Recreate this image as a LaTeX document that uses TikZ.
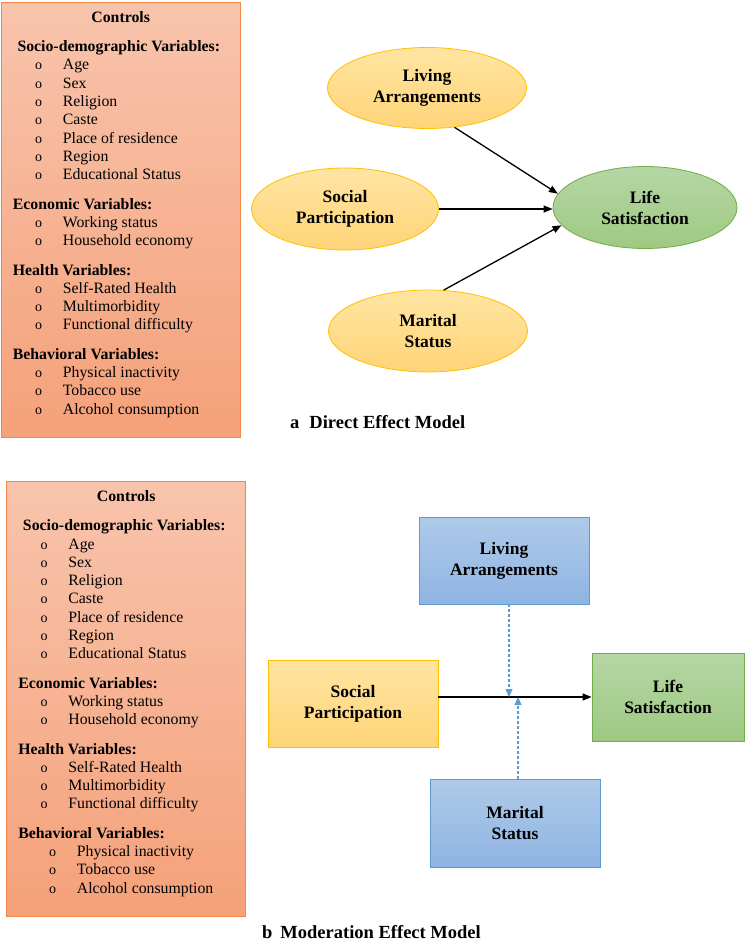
\documentclass[tikz,border=0pt]{standalone}
\usepackage{fontspec}
\setmainfont{Liberation Serif}
\usepackage{tikz}
\usetikzlibrary{shapes.geometric,arrows.meta}
\definecolor{peachtop}{RGB}{248,196,172}
\definecolor{peachbot}{RGB}{245,161,122}
\definecolor{peachline}{RGB}{240,135,75}
\definecolor{goldtop}{RGB}{255,229,162}
\definecolor{goldbot}{RGB}{255,212,120}
\definecolor{goldline}{RGB}{255,192,0}
\definecolor{greentop}{RGB}{181,214,165}
\definecolor{greenbot}{RGB}{158,201,130}
\definecolor{greenline}{RGB}{112,173,71}
\definecolor{bluetop}{RGB}{175,202,233}
\definecolor{bluebot}{RGB}{143,180,227}
\definecolor{blueline}{RGB}{91,155,213}

\begin{document}
\begin{tikzpicture}[
	x=1pt, y=-1pt,
	ctrlbox/.style={
		draw=peachline, line width=1pt,
		top color=peachtop, bottom color=peachbot,
		anchor=north west, inner sep=0,
		minimum width=239pt, minimum height=435pt
	},
	head/.style={anchor=base west, inner sep=0, font=\bfseries\fontsize{15.8}{18}\selectfont},
	item/.style={anchor=base west, inner sep=0, font=\fontsize{15.8}{18}\selectfont},
	dot/.style={anchor=base west, inner sep=0, font=\fontsize{14}{14}\selectfont},
	predictor/.style={
		ellipse, draw=goldline, line width=0.8pt,
		top color=goldtop, bottom color=goldbot,
		inner sep=0, minimum width=199pt, minimum height=81pt,
		align=center, font=\bfseries\fontsize{17.5}{21}\selectfont
	},
	outcome/.style={predictor, draw=greenline, top color=greentop, bottom color=greenbot},
	predbox/.style={
		rectangle, draw=goldline, line width=0.8pt,
		top color=goldtop, bottom color=goldbot,
		inner sep=0, minimum width=170pt, minimum height=87pt,
		align=center, font=\bfseries\fontsize{17.5}{21}\selectfont
	},
	modbox/.style={predbox, draw=blueline, top color=bluetop, bottom color=bluebot},
	outbox/.style={predbox, draw=greenline, top color=greentop, bottom color=greenbot},
	link/.style={-{Triangle[length=9pt,width=7pt]}, line width=1.3pt},
	modlink/.style={blueline, dash pattern=on 3pt off 2pt, line width=1.1pt,
		-{Triangle[length=8pt,width=7pt]}},
	caption/.style={anchor=base west, inner sep=0, font=\bfseries\fontsize{18.5}{20}\selectfont}
	]
	\useasboundingbox (0,0) rectangle (747,942);

	% control variable panels
	\foreach \p/\dx/\dy/\bi in {a/0/0/0, b/5.5/479/8.5}
	{
		\begin{scope}[shift={(\dx,\dy)}]
			\node[ctrlbox] (\p-box) at (0.5,2) {};
			\node[head, anchor=base] (\p-ctrl) at (120.7,22.7) {Controls};
			\foreach \h/\hx/\hy/\items [count=\s] in {
				{Socio-demographic Variables:}/17.3/51.7/{Age,Sex,Religion,Caste,Place of residence,Region,Educational Status},
				{Economic Variables:}/12.7/209/{Working status,Household economy},
				{Health Variables:}/12.7/275/{Self-Rated Health,Multimorbidity,Functional difficulty},
				{Behavioral Variables:}/12.7/359.3/{Physical inactivity,Tobacco use,Alcohol consumption}}
			{
				\node[head] (\p-s\s) at (\hx,\hy) {\h};
				\pgfmathsetmacro\ind{\s==4 ? \bi : 0}
				\foreach \t [count=\k] in \items
				{
					\node[dot] (\p-o\s-\k) at ({35+\ind},{\hy+18.3*\k}) {o};
					\node[item] (\p-s\s-\k) at ({62.7+\ind},{\hy+18.3*\k}) {\t};
				}
			}
		\end{scope}
	}

	% a: direct effect
	\node[predictor] (liv) at (427,88) {Living\\Arrangements};
	\node[predictor, minimum width=187pt, minimum height=82pt] (soc) at (345,209) {Social\\Participation};
	\node[predictor, minimum height=82pt] (mar) at (428,331) {Marital\\Status};
	\node[outcome, minimum width=184pt, minimum height=82pt] (life) at (645,207.5) {Life\\Satisfaction};
	\draw[link] (liv.-55) -- (life.171);
	\draw[link] (soc.east) -- (soc.east -| life.west);
	\draw[link] (mar.69) -- (life.192);
	\node[caption] (capa) at (290,428) {a\hspace{10pt}Direct Effect Model};

	% b: moderation
	\node[modbox] (livb) at (504,560.5) {Living\\Arrangements};
	\node[predbox] (socb) at (353,703.5) {Social\\Participation};
	\node[outbox, minimum width=152pt, minimum height=88pt] (lifeb) at (668,697) {Life\\Satisfaction};
	\node[modbox, minimum height=88pt] (marb) at (515,823) {Marital\\Status};
	\draw[link] (socb.east |- lifeb.west) -- (lifeb.west);
	\draw[modlink] ([xshift=5pt]livb.south) -- ([xshift=5pt]livb.south |- lifeb.west);
	\draw[modlink] ([xshift=3pt]marb.north) -- ([xshift=3pt]marb.north |- lifeb.west);
	\node[caption] (capb) at (262,938) {b\hspace{8pt}Moderation Effect Model};
\end{tikzpicture}
\end{document}
